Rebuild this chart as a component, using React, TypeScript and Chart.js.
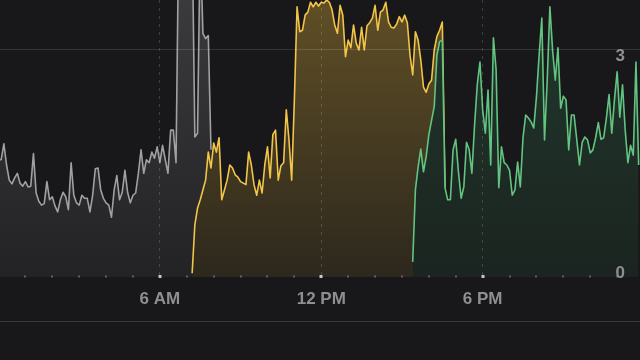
import React, { useEffect, useRef } from 'react';
import { Chart, registerables } from 'chart.js';

Chart.register(...registerables);

// ---- data ----
const POINT_STEP_HOURS = 0.1; // one reading every 6 minutes
const grayStartHour = 0;
const yellowStartHour = 7.2;
const greenStartHour = 15.4;

const grayValues = [
  1.55, 1.55, 1.76, 1.48, 1.28, 1.23, 1.31, 1.37, 1.24, 1.2,
  1.26, 1.19, 1.2, 1.63, 1.11, 1.0, 0.95, 0.97, 1.26, 1.02,
  1.06, 0.94, 0.86, 1.02, 1.12, 1.06, 0.89, 1.51, 1.08, 0.98,
  0.95, 1.08, 1.04, 1.04, 0.86, 1.08, 1.43, 1.44, 1.15, 1.04,
  0.98, 0.95, 0.79, 1.15, 1.34, 1.02, 1.12, 1.41, 1.12, 0.98,
  1.08, 1.11, 1.37, 1.68, 1.37, 1.55, 1.51, 1.65, 1.57, 1.72,
  1.51, 1.74, 1.55, 1.37, 1.94, 1.94, 1.51, 4.6, 4.8, 4.7,
  4.9, 4.8, 4.6, 1.85, 1.9, 4.5, 3.22, 3.15, 3.19, 1.68,
];

const yellowValues = [
  0.05, 0.69, 0.91, 1.02, 1.15, 1.28, 1.65, 1.44, 1.77, 1.65,
  1.84, 1.02, 1.15, 1.28, 1.48, 1.44, 1.35, 1.32, 1.26, 1.24,
  1.22, 1.65, 1.48, 1.22, 1.08, 1.28, 1.11, 1.48, 1.72, 1.31,
  1.88, 1.94, 1.28, 1.47, 1.51, 2.21, 1.81, 1.28, 2.34, 3.57,
  3.24, 3.26, 3.46, 3.5, 3.63, 3.57, 3.63, 3.58, 3.63, 3.62,
  3.66, 3.63, 3.53, 3.33, 3.22, 3.59, 3.46, 2.91, 3.13, 3.03,
  3.33, 3.09, 3.0, 3.3, 3.0, 3.32, 3.36, 3.42, 3.59, 3.26,
  3.5, 3.53, 3.63, 3.37, 3.3, 3.29, 3.34, 3.44, 3.37, 3.46,
  3.36, 2.93, 2.67, 3.24, 3.13, 2.87, 2.51, 2.44, 2.55, 2.6,
  3.0, 3.18, 3.26, 3.37, 1.18,
];

const greenValues = [
  0.2, 1.15, 1.45, 1.69, 1.39, 1.59, 1.88, 2.07, 2.25, 2.93,
  3.11, 3.13, 1.18, 1.02, 1.02, 1.68, 1.82, 1.39, 1.04, 1.19,
  1.78, 1.68, 1.37, 2.01, 2.54, 2.84, 2.21, 1.9, 2.47, 1.48,
  3.16, 2.74, 1.18, 1.72, 1.51, 1.48, 1.41, 1.08, 1.15, 1.52,
  1.19, 1.84, 2.14, 2.1, 2.05, 1.97, 2.38, 2.93, 3.42, 1.81,
  2.6, 3.57, 3.0, 2.6, 3.03, 2.23, 2.39, 2.34, 1.68, 2.14,
  2.14, 1.81, 1.48, 1.78, 1.85, 1.81, 1.64, 1.68, 1.84, 2.04,
  1.82, 1.84, 2.1, 2.41, 1.9, 2.34, 2.71, 2.11, 2.54, 1.94,
  1.51, 1.74, 1.61, 2.84, 1.48,
];

const xLabelHours = [6, 12, 18];
const xLabelTexts = ['6 AM', '12 PM', '6 PM'];
const yTickValues = [0, 3];
const yTickTexts = ['0', '3'];

const X_MIN = 0.056;
const X_MAX = 23.85;
const Y_MAX = 3.66;

const FONT_FAMILY = '"Liberation Sans", Arial, Helvetica, sans-serif';
const LABEL_COLOR = '#8e8e93';
const BG = '#18181a';

const toPoints = (start: number, values: number[]) =>
  values.map((v, i) => ({ x: +(start + i * POINT_STEP_HOURS).toFixed(2), y: v }));

const hourTicks = Array.from({ length: 23 }, (_, i) => i + 1);

const gradient = (top: string, bottom: string) => (ctx: any) => {
  const chart = ctx.chart;
  const area = chart.chartArea;
  if (!area) return top;
  const g = chart.ctx.createLinearGradient(0, area.top, 0, area.bottom);
  g.addColorStop(0, top);
  g.addColorStop(1, bottom);
  return g;
};

const decorPlugin = {
  id: 'decor',
  afterDatasetsDraw(chart: any) {
    const { ctx, chartArea, scales } = chart;
    const xs = scales.x;
    ctx.save();
    hourTicks.forEach((h) => {
      const px = Math.round(xs.getPixelForValue(h));
      const major = xLabelHours.includes(h);
      ctx.fillStyle = major ? 'rgba(255,255,255,0.75)' : 'rgba(255,255,255,0.28)';
      const s = major ? 3 : 2;
      ctx.fillRect(px - s / 2, chartArea.bottom - s / 2 - 0.5, s, s);
    });
    ctx.restore();
  },
  afterDraw(chart: any) {
    const { ctx, chartArea, scales } = chart;
    const ys = scales.y;
    ctx.save();
    ctx.font = `bold 17px ${FONT_FAMILY}`;
    ctx.fillStyle = LABEL_COLOR;
    ctx.textAlign = 'right';
    ctx.textBaseline = 'alphabetic';
    yTickValues.forEach((v, i) => {
      const py = ys.getPixelForValue(v);
      const baseline = v === 0 ? py + 1 : py + 11;
      ctx.fillText(yTickTexts[i], chartArea.right - 15, baseline);
    });
    ctx.strokeStyle = 'rgba(255,255,255,0.14)';
    ctx.lineWidth = 1;
    ctx.beginPath();
    ctx.moveTo(0, chartArea.bottom + 44.5);
    ctx.lineTo(chart.width, chartArea.bottom + 44.5);
    ctx.stroke();
    ctx.restore();
  },
};

export default function App() {
  const canvasRef = useRef<HTMLCanvasElement | null>(null);

  useEffect(() => {
    document.body.style.margin = '0';
    document.body.style.background = BG;
    const canvas = canvasRef.current;
    if (!canvas) return;
    const chart = new Chart(canvas, {
      type: 'line',
      data: {
        datasets: [
          {
            label: 'gray',
            data: toPoints(grayStartHour, grayValues),
            borderColor: 'rgb(160,160,165)',
            backgroundColor: gradient('rgb(58,58,61)', 'rgb(35,35,37)'),
            fill: 'origin',
            order: 3,
          },
          {
            label: 'yellow',
            data: toPoints(yellowStartHour, yellowValues),
            borderColor: 'rgb(242,196,72)',
            backgroundColor: gradient('rgb(96,79,38)', 'rgb(45,40,29)'),
            fill: 'origin',
            order: 2,
          },
          {
            label: 'green',
            data: toPoints(greenStartHour, greenValues),
            borderColor: 'rgb(98,196,128)',
            backgroundColor: gradient('rgb(33,56,44)', 'rgb(27,36,32)'),
            fill: 'origin',
            order: 1,
          },
        ],
      },
      options: {
        responsive: false,
        maintainAspectRatio: false,
        animation: false,
        devicePixelRatio: 1,
        layout: { padding: 0 },
        elements: {
          point: { radius: 0, hoverRadius: 0 },
          line: { tension: 0, borderWidth: 1.6, borderJoinStyle: 'round' },
        },
        plugins: {
          legend: { display: false },
          tooltip: { enabled: false },
        },
        scales: {
          x: {
            type: 'linear',
            min: X_MIN,
            max: X_MAX,
            afterBuildTicks: (scale: any) => {
              scale.ticks = hourTicks.map((v) => ({ value: v }));
            },
            afterFit: (scale: any) => {
              scale.height = 83;
            },
            ticks: {
              autoSkip: false,
              maxRotation: 0,
              minRotation: 0,
              padding: 12,
              color: LABEL_COLOR,
              font: { family: FONT_FAMILY, size: 17, weight: 'bold' },
              callback: (v: any) => {
                const i = xLabelHours.indexOf(Number(v));
                return i >= 0 ? xLabelTexts[i] : '';
              },
            },
            grid: {
              z: 1,
              drawTicks: false,
              lineWidth: 1,
              color: (c: any) =>
                c.tick && xLabelHours.includes(c.tick.value) ? 'rgba(255,255,255,0.16)' : 'transparent',
            },
            border: { display: false, dash: [3, 5] },
          },
          y: {
            type: 'linear',
            min: 0,
            max: Y_MAX,
            position: 'right',
            afterBuildTicks: (scale: any) => {
              scale.ticks = yTickValues.map((v) => ({ value: v }));
            },
            afterFit: (scale: any) => {
              scale.width = 0;
            },
            ticks: { display: false },
            grid: {
              z: 1,
              drawTicks: false,
              lineWidth: 1,
              color: (c: any) => (c.tick && c.tick.value === 3 ? 'rgba(255,255,255,0.13)' : 'transparent'),
            },
            border: { display: false },
          },
        },
      },
      plugins: [decorPlugin],
    } as any);
    return () => chart.destroy();
  }, []);

  return (
    <div style={{ position: 'fixed', left: 0, top: 0, width: 640, height: 360, background: BG }}>
      <canvas ref={canvasRef} width={640} height={360} style={{ display: 'block', width: 640, height: 360 }} />
    </div>
  );
}
